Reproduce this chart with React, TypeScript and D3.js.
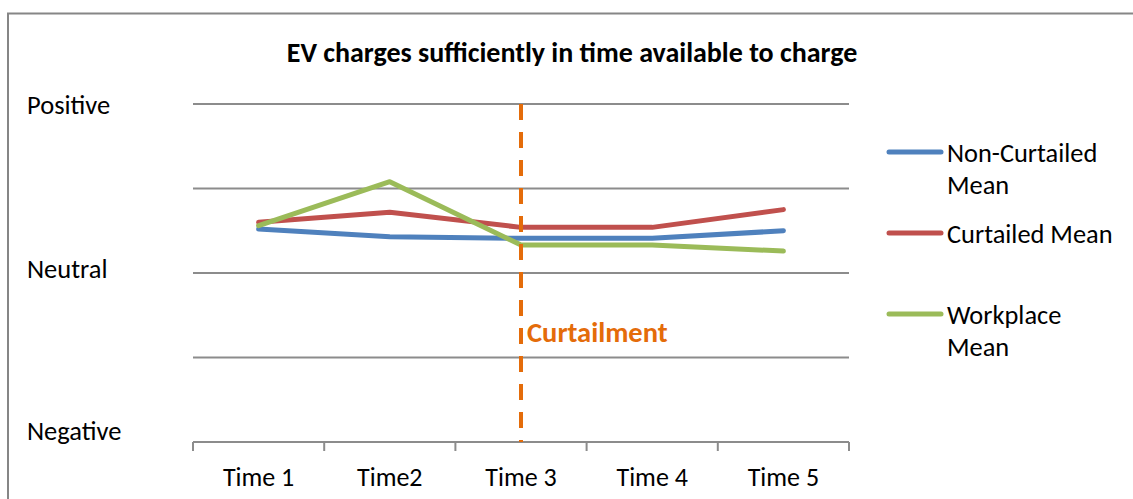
import React from "react";
import * as d3 from "d3";

// chart data
const categories = ["Time 1", "Time2", "Time 3", "Time 4", "Time 5"];
const nonCurtailed = [0.52, 0.43, 0.41, 0.41, 0.5];
const curtailed = [0.6, 0.72, 0.54, 0.54, 0.75];
const workplace = [0.56, 1.08, 0.33, 0.33, 0.26];
const seriesNames = [["Non-Curtailed", "Mean"], ["Curtailed Mean"], ["Workplace", "Mean"]];
const seriesColors = ["#4F81BD", "#C0504D", "#9BBB59"];
const yTicks = [-2, -1, 0, 1, 2];
const yLabels = [
  { text: "Positive", value: 2, shift: 9.5 },
  { text: "Neutral", value: 0, shift: 4.5 },
  { text: "Negative", value: -2, shift: -2.5 },
];
const curtailmentAt = "Time 3";

const FONT = "Carlito, Calibri, Lato, 'Open Sans', sans-serif";

function App() {
  const width = 1133;
  const height = 499;

  const xScale = d3.scalePoint<string>().domain(categories).range([193, 849]).padding(0.5);
  const step = xScale.step();
  const yScale = d3.scaleLinear().domain([-2, 2]).range([442, 104]);

  const line = d3
    .line<number>()
    .x((d, i) => xScale(categories[i]) as number)
    .y((d) => yScale(d));

  const allSeries = [nonCurtailed, curtailed, workplace];
  const legendY = [152, 233, 314];
  const cx = xScale(curtailmentAt) as number;

  return (
    <svg
      width={width}
      height={height}
      style={{ position: "absolute", left: 0, top: 0, background: "#fff" }}
      fontFamily={FONT}
    >
      {/* outer chart border */}
      <rect x={8} y={13.5} width={1140} height={500} fill="none" stroke="#868686" strokeWidth={2} />

      <text x={572} y={62} textAnchor="middle" fontSize={28} fontWeight="bold" fill="#000">
        EV charges sufficiently in time available to charge
      </text>

      {/* gridlines */}
      {yTicks.map((t) => (
        <line key={t} x1={193} x2={849} y1={yScale(t)} y2={yScale(t)} stroke="#8c8c8c" strokeWidth={2} />
      ))}

      {/* category ticks */}
      {d3.range(categories.length + 1).map((i) => {
        const x = 193 + i * step;
        return <line key={i} x1={x} x2={x} y1={yScale(-2)} y2={yScale(-2) + 9} stroke="#8c8c8c" strokeWidth={2} />;
      })}

      {categories.map((c) => (
        <text key={c} x={xScale(c)} y={486} textAnchor="middle" fontSize={26} fill="#000">
          {c}
        </text>
      ))}

      {yLabels.map((l) => (
        <text key={l.text} x={27} y={yScale(l.value) + l.shift} fontSize={26.5} fill="#000">
          {l.text}
        </text>
      ))}

      {/* series */}
      {allSeries.map((s, i) => (
        <path
          key={i}
          d={line(s) as string}
          fill="none"
          stroke={seriesColors[i]}
          strokeWidth={5}
          strokeLinejoin="round"
          strokeLinecap="round"
        />
      ))}

      {/* curtailment marker */}
      <line
        x1={cx}
        x2={cx}
        y1={yScale(2)}
        y2={yScale(-2)}
        stroke="#E46C0A"
        strokeWidth={4}
        strokeDasharray="16 12"
      />
      <text x={cx + 6} y={342} fontSize={28.5} fontWeight="bold" fill="#E46C0A">
        Curtailment
      </text>

      {/* legend */}
      {seriesNames.map((names, i) => (
        <g key={i}>
          <line
            x1={889}
            x2={941}
            y1={legendY[i]}
            y2={legendY[i]}
            stroke={seriesColors[i]}
            strokeWidth={5}
            strokeLinecap="round"
          />
          {names.map((n, j) => (
            <text key={j} x={947} y={legendY[i] + 9.5 + j * 32.5} fontSize={26.4} fill="#000">
              {n}
            </text>
          ))}
        </g>
      ))}
    </svg>
  );
}

export default App;
